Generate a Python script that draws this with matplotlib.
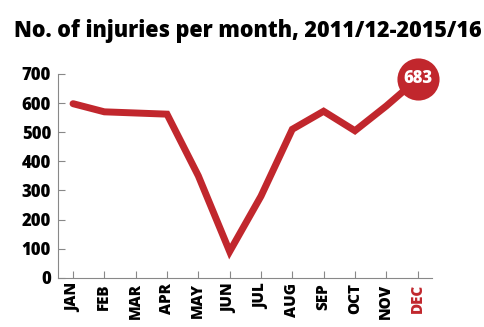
import matplotlib
matplotlib.use("Agg")
import matplotlib.pyplot as plt

months = ["JAN", "FEB", "MAR", "APR", "MAY", "JUN", "JUL", "AUG", "SEP", "OCT", "NOV", "DEC"]
injuries = [598, 570, 566, 562, 350, 90, 280, 510, 572, 505, 590, 683]
yticks = [0, 100, 200, 300, 400, 500, 600, 700]
title = "No. of injuries per month, 2011/12-2015/16"

RED = "#C1272D"
FONT = "Open Sans"

fig = plt.figure(figsize=(4.85, 3.27), dpi=100)
ax = fig.add_axes([58/485, 1-277.7/327, (432.3-58)/485, 203.7/327])

x = list(range(len(months)))
ax.plot(x, injuries, color=RED, lw=5, solid_capstyle="round", solid_joinstyle="miter", clip_on=False)
ax.scatter([x[-1]], [injuries[-1]], s=920, color=RED, zorder=5, clip_on=False, linewidths=0)
ax.text(x[-1], injuries[-1], str(injuries[-1]), color="white", fontsize=12, fontweight=800,
        ha="center", va="center", family=FONT, zorder=6)

ax.set_xlim(-0.48, 11.47)
ax.set_ylim(0, 700)
ax.set_xticks(x)
ax.set_xticklabels(months, rotation=90, fontsize=11, fontweight=800, family=FONT)
ax.get_xticklabels()[-1].set_color(RED)
ax.set_yticks(yticks)
ax.set_yticklabels([str(v) for v in yticks], fontsize=12, fontweight=800, family=FONT)

for s in ["top", "right"]:
    ax.spines[s].set_visible(False)
for s in ["left", "bottom"]:
    ax.spines[s].set_color("#888888")
    ax.spines[s].set_linewidth(0.8)
ax.tick_params(axis="both", direction="in", length=5, color="#888888", width=0.8)
ax.tick_params(axis="y", pad=5)
ax.tick_params(axis="x", pad=4)

fig.text(14/485, 1-31/327, title, fontsize=15.5, fontweight=800, family=FONT, va="center", ha="left")

fig.savefig("out.png", dpi=100)
